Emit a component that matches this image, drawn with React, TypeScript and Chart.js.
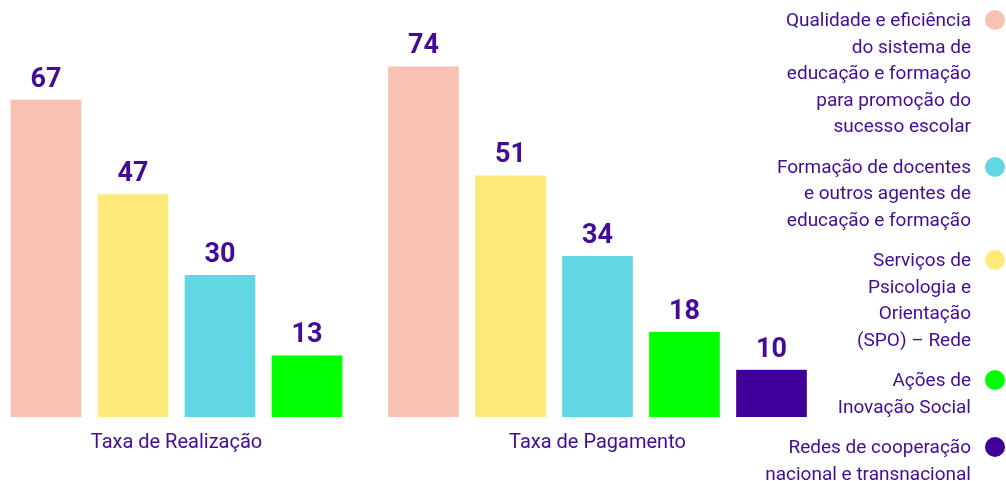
import React, { useEffect, useRef } from "react";
import { Chart, registerables } from "chart.js";

Chart.register(...registerables);

const categories = ["Taxa de Realização", "Taxa de Pagamento"];

const qualidadeValues = [67, 74];
const spoValues = [47, 51];
const formacaoValues = [30, 34];
const acoesValues = [13, 18];
const redesValues = [null, 10];

const seriesNames = [
  "Qualidade e eficiência do sistema de educação e formação para promoção do sucesso escolar",
  "Serviços de Psicologia e Orientação (SPO) – Rede",
  "Formação de docentes e outros agentes de educação e formação",
  "Ações de Inovação Social",
  "Redes de cooperação nacional e transnacional",
];
const seriesValues = [qualidadeValues, spoValues, formacaoValues, acoesValues, redesValues];
const seriesColors = ["#f9c1b4", "#feea7a", "#62d6e3", "#00ff00", "#40009a"];

// legend order and line wrapping as shown in the picture
const legendOrder = [0, 2, 1, 3, 4];
const legendLines = [
  ["Qualidade e eficiência", "do sistema de", "educação e formação", "para promoção do", "sucesso escolar"],
  ["Serviços de", "Psicologia e", "Orientação", "(SPO) – Rede"],
  ["Formação de docentes", "e outros agentes de", "educação e formação"],
  ["Ações de", "Inovação Social"],
  ["Redes de cooperação", "nacional e transnacional"],
];

const TEXT_COLOR = "#420c99";
const FONT = "Roboto, 'Noto Sans', sans-serif";

const valueLabels = {
  id: "valueLabels",
  afterDatasetsDraw(chart: any) {
    const ctx = chart.ctx;
    ctx.save();
    ctx.font = `bold 27px ${FONT}`;
    ctx.fillStyle = TEXT_COLOR;
    ctx.textAlign = "center";
    ctx.textBaseline = "alphabetic";
    chart.data.datasets.forEach((ds: any, di: number) => {
      const meta = chart.getDatasetMeta(di);
      meta.data.forEach((el: any, i: number) => {
        const v = ds.data[i];
        if (v === null || v === undefined) return;
        ctx.fillText(String(v), el.x, el.y - 13);
      });
    });
    ctx.restore();
  },
};

export default function App() {
  const canvasRef = useRef<HTMLCanvasElement | null>(null);

  useEffect(() => {
    if (!canvasRef.current) return;
    const chart = new Chart(canvasRef.current, {
      type: "bar",
      data: {
        labels: categories,
        datasets: seriesNames.map((name, i) => ({
          label: name,
          data: seriesValues[i],
          backgroundColor: seriesColors[i],
          borderColor: "rgba(0,0,0,0)",
          borderWidth: { left: 8.5, right: 8.5, top: 0, bottom: 0 },
          borderSkipped: false,
          barThickness: 87,
          skipNull: true,
        })),
      },
      options: {
        responsive: false,
        animation: false,
        layout: { padding: { top: 38, bottom: 12, left: 0, right: 0 } },
        plugins: {
          legend: { display: false },
          tooltip: { enabled: false },
        },
        scales: {
          x: {
            offset: true,
            grid: { display: false, drawTicks: false },
            border: { display: false },
            ticks: {
              color: TEXT_COLOR,
              font: { family: FONT, size: 20 },
              padding: 14,
            },
          },
          y: {
            display: false,
            min: 0,
            max: 80,
          },
        },
      },
      plugins: [valueLabels],
    });
    return () => chart.destroy();
  }, []);

  return (
    <div
      style={{
        position: "absolute",
        left: 0,
        top: 0,
        width: 1006,
        height: 481,
        overflow: "hidden",
        background: "#ffffff",
        fontFamily: FONT,
      }}
    >
      <canvas
        ref={canvasRef}
        width={842}
        height={481}
        style={{ position: "absolute", left: -34, top: 0, width: 842, height: 481 }}
      />
      <div
        style={{
          position: "absolute",
          right: 1,
          top: 7,
          display: "flex",
          flexDirection: "column",
          alignItems: "flex-end",
        }}
      >
        {legendOrder.map((si) => (
          <div
            key={si}
            style={{ display: "flex", flexDirection: "row", alignItems: "flex-start", marginBottom: 14 }}
          >
            <div
              style={{
                textAlign: "right",
                color: TEXT_COLOR,
                fontSize: 19,
                lineHeight: "26.5px",
                whiteSpace: "nowrap",
              }}
            >
              {legendLines[si].map((line, k) => (
                <div key={k}>{line}</div>
              ))}
            </div>
            <div
              style={{
                width: 20,
                height: 20,
                borderRadius: 10,
                background: seriesColors[si],
                marginLeft: 14,
                marginTop: 3.25,
                flexShrink: 0,
              }}
            />
          </div>
        ))}
      </div>
    </div>
  );
}
